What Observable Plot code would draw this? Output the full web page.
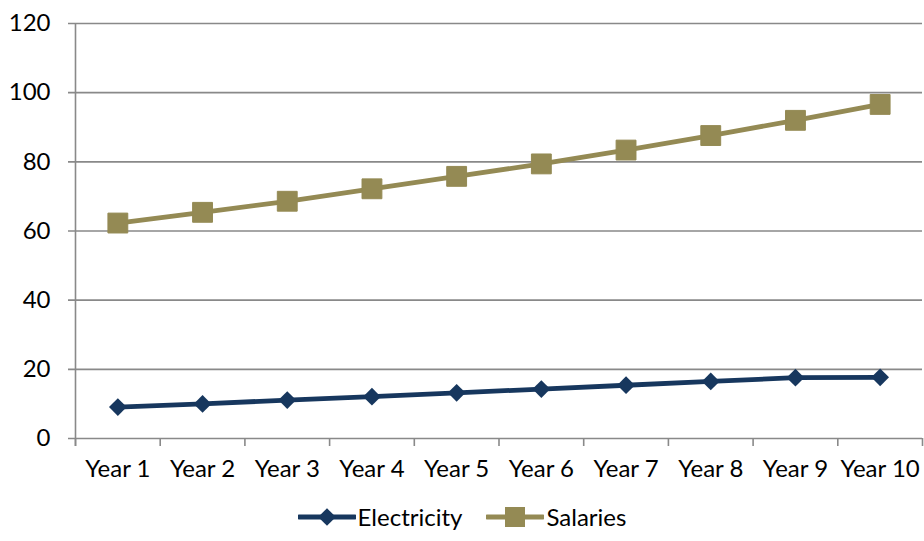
<!DOCTYPE html>
<html>
<head>
<meta charset="utf-8">
<script src="https://cdn.jsdelivr.net/npm/d3@7"></script>
<script src="https://cdn.jsdelivr.net/npm/@observablehq/plot@0.6"></script>
<style>
  html, body { margin: 0; padding: 0; background: #fff; }
  #chart { width: 924px; }
  .legend { display: flex; justify-content: center; align-items: center; height: 49px;
            font-family: Lato, "Open Sans", sans-serif; font-size: 24px; color: #000; }
  .legend .item { display: flex; align-items: center; margin: 0 12px; }
  .legend svg { margin-right: 2px; }
</style>
</head>
<body>
<div id="chart"></div>
<script>
// Annual costs by year
const years = ["Year 1", "Year 2", "Year 3", "Year 4", "Year 5", "Year 6", "Year 7", "Year 8", "Year 9", "Year 10"];
const electricity = [9.1, 10.0, 11.1, 12.1, 13.2, 14.3, 15.4, 16.5, 17.6, 17.7];
const salaries = [62.3, 65.4, 68.6, 72.2, 75.8, 79.4, 83.4, 87.6, 92.0, 96.6];
const yTicks = [0, 20, 40, 60, 80, 100, 120];

const seriesNames = ["Electricity", "Salaries"];
const seriesColors = ["#17375E", "#948A54"];

const rows = [
  ...years.map((year, i) => ({year, value: electricity[i], series: "Electricity"})),
  ...years.map((year, i) => ({year, value: salaries[i], series: "Salaries"}))
];

const W = 924, H = 492;
const margin = {top: 23, right: 2, bottom: 54, left: 75};
const step = (W - margin.left - margin.right) / years.length;
const gray = "#898989";
const font = "Lato, 'Open Sans', sans-serif";

const chart = Plot.plot({
  width: W,
  height: H,
  marginTop: margin.top,
  marginRight: margin.right,
  marginBottom: margin.bottom,
  marginLeft: margin.left,
  style: {fontFamily: font, fontSize: "24px", color: "#000", background: "#fff"},
  x: {type: "point", domain: years, padding: 0.5, round: false, label: null},
  y: {domain: [0, 120], label: null},
  color: {domain: seriesNames, range: seriesColors},
  marks: [
    // horizontal gridlines, extending a little left of the axis as tick marks
    Plot.ruleY(yTicks, {stroke: gray, strokeWidth: 1.6, insetLeft: -7}),
    // vertical axis line at the left edge of the first category
    Plot.ruleX([years[0]], {dx: -step / 2, stroke: gray, strokeWidth: 1.6, insetBottom: -8}),
    // category boundary ticks below the baseline
    Plot.ruleX(years, {dx: -step / 2, y1: 0, y2: 0, insetBottom: -8, stroke: gray, strokeWidth: 1.6}),
    Plot.ruleX([years[years.length - 1]], {dx: step / 2, y1: 0, y2: 0, insetBottom: -8, stroke: gray, strokeWidth: 1.6}),
    Plot.axisY({ticks: yTicks, tickSize: 0, tickPadding: 25, fontSize: 24, fill: "#000"}),
    Plot.axisX({tickSize: 0, tickPadding: 21, fontSize: 24, fill: "#000"}),
    Plot.lineY(rows, {x: "year", y: "value", stroke: "series", z: "series", strokeWidth: 4.8}),
    Plot.dot(rows.filter(d => d.series === "Electricity"), {
      x: "year", y: "value", symbol: "diamond2", r: 8, fill: "series", stroke: null
    }),
    Plot.dot(rows.filter(d => d.series === "Salaries"), {
      x: "year", y: "value", symbol: "square", r: 11.2, fill: "series", stroke: "series",
      strokeWidth: 1, strokeLinejoin: "round"
    })
  ]
});
document.getElementById("chart").appendChild(chart);

// Legend below the plot
const legend = document.createElement("div");
legend.className = "legend";
seriesNames.forEach((name, i) => {
  const item = document.createElement("div");
  item.className = "item";
  const ns = "http://www.w3.org/2000/svg";
  const sw = document.createElementNS(ns, "svg");
  sw.setAttribute("width", 58);
  sw.setAttribute("height", 24);
  const ln = document.createElementNS(ns, "line");
  ln.setAttribute("x1", 1); ln.setAttribute("x2", 57);
  ln.setAttribute("y1", 12); ln.setAttribute("y2", 12);
  ln.setAttribute("stroke", seriesColors[i]);
  ln.setAttribute("stroke-width", 4.8);
  ln.setAttribute("stroke-linecap", "round");
  sw.appendChild(ln);
  const sym = document.createElementNS(ns, "path");
  const symbol = i === 0 ? d3.symbolDiamond2 : d3.symbolSquare;
  const size = i === 0 ? 200 : 400;
  sym.setAttribute("d", d3.symbol(symbol, size)());
  sym.setAttribute("transform", "translate(29,12)");
  sym.setAttribute("fill", seriesColors[i]);
  sw.appendChild(sym);
  const label = document.createElement("span");
  label.textContent = name;
  item.appendChild(sw);
  item.appendChild(label);
  legend.appendChild(item);
});
document.getElementById("chart").appendChild(legend);
</script>
</body>
</html>
